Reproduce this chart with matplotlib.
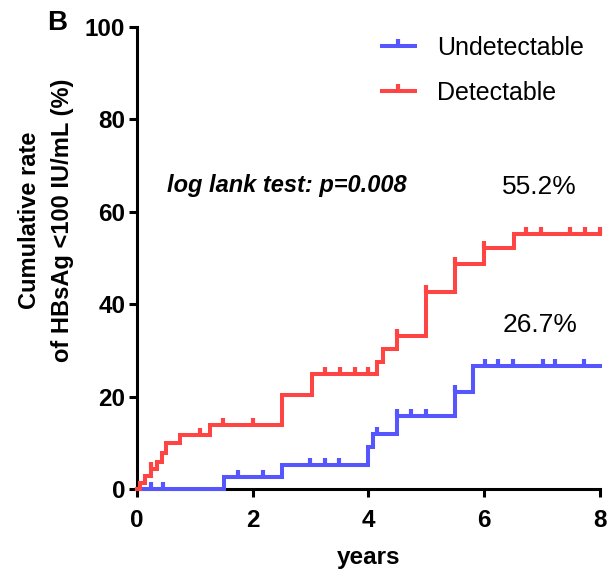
import numpy as np
import matplotlib
matplotlib.use("Agg")
import matplotlib.pyplot as plt
from matplotlib.lines import Line2D

plt.rcParams['font.family'] = ['Liberation Sans', 'DejaVu Sans']

# ---- data ----
red_times = [0, 0.05, 0.14, 0.25, 0.34, 0.43, 0.5, 0.74, 1.26, 2.5, 3.02, 4.15, 4.25, 4.5, 5.0, 5.5, 6.0, 6.52, 8.0]
red_vals = [0, 1.4, 2.8, 4.3, 5.8, 7.7, 10.0, 11.7, 13.8, 20.3, 24.8, 27.5, 30.3, 33.1, 42.6, 48.7, 52.2, 55.2, 55.2]
red_censor = [0.25, 1.09, 1.49, 2.0, 3.25, 3.5, 3.76, 4.0, 4.5, 5.0, 5.5, 6.0, 6.73, 6.99, 7.49, 7.75, 8.0]

blue_times = [0, 1.5, 2.5, 4.0, 4.08, 4.5, 5.5, 5.8, 8.0]
blue_vals = [0, 2.7, 5.2, 9.0, 12.0, 15.7, 21.0, 26.7, 26.7]
blue_censor = [0.25, 0.45, 1.75, 2.18, 2.99, 3.25, 3.49, 4.15, 4.5, 4.74, 5.0, 5.5, 6.01, 6.24, 6.5, 7.02, 7.22, 7.72]

labels = ["Undetectable", "Detectable"]
x_ticks = [0, 2, 4, 6, 8]
y_ticks = [0, 20, 40, 60, 80, 100]
final_labels = ["26.7%", "55.2%"]

BLUE = '#5656FF'
RED = '#FF4444'

fig = plt.figure(figsize=(6.09, 5.72), dpi=100)
ax = fig.add_axes([0.225, 0.145, 0.76, 0.808])

def step_val(times, vals, t):
    i = np.searchsorted(np.array(times), t, side='right') - 1
    return vals[max(i, 0)]

LW = 2.9
MS = 4.8
MEW = 3.0
for times, vals, cens, col in [(blue_times, blue_vals, blue_censor, BLUE),
                               (red_times, red_vals, red_censor, RED)]:
    ax.step(times, vals, where='post', color=col, lw=LW, clip_on=False,
            solid_joinstyle='miter', zorder=3)
    cy = [step_val(times, vals, t) for t in cens]
    ax.plot(cens, cy, linestyle='none', marker=2, markersize=MS,
            markeredgewidth=MEW, color=col, clip_on=False, zorder=3)

ax.set_xlim(0, 8)
ax.set_ylim(0, 100)
ax.set_xticks(x_ticks)
ax.set_yticks(y_ticks)
for s in ['top', 'right']:
    ax.spines[s].set_visible(False)
for s in ['left', 'bottom']:
    ax.spines[s].set_linewidth(2.2)
ax.tick_params(axis='both', width=2.2, length=5.5, labelsize=17.5)
ax.tick_params(axis='y', pad=3)
ax.tick_params(axis='x', pad=9)
for lab in ax.get_xticklabels() + ax.get_yticklabels():
    lab.set_fontweight('bold')

ax.set_xlabel('years', fontsize=17.5, fontweight='bold', labelpad=10)
fig.text(46 / 609, 1 - 220 / 572, 'Cumulative rate\nof HBsAg <100 IU/mL (%)',
         rotation=90, ha='center', va='center', multialignment='center',
         fontsize=17, fontweight='bold', linespacing=1.5)
fig.text(47 / 609, 1 - 23 / 572, 'B', fontsize=20, fontweight='bold',
         ha='left', va='center')

ax.text(0.52, 65.6, 'log lank test: p=0.008', fontsize=17, fontweight='bold',
        fontstyle='italic', ha='left', va='center')
ax.text(6.96, 65.4, final_labels[1], fontsize=19, ha='center', va='center')
ax.text(6.96, 35.4, final_labels[0], fontsize=19, ha='center', va='center')

handles = [Line2D([], [], color=BLUE, lw=LW, marker=2, markersize=MS, markeredgewidth=MEW),
           Line2D([], [], color=RED, lw=LW, marker=2, markersize=MS, markeredgewidth=MEW)]
ax.legend(handles, labels, loc='upper left', bbox_to_anchor=(382 / 609, 1 - 36 / 572),
          bbox_transform=fig.transFigure, frameon=False, fontsize=18,
          handlelength=1.3, handletextpad=0.9, labelspacing=0.82, borderpad=0,
          borderaxespad=0, numpoints=1)

fig.savefig('out.png', dpi=100)
